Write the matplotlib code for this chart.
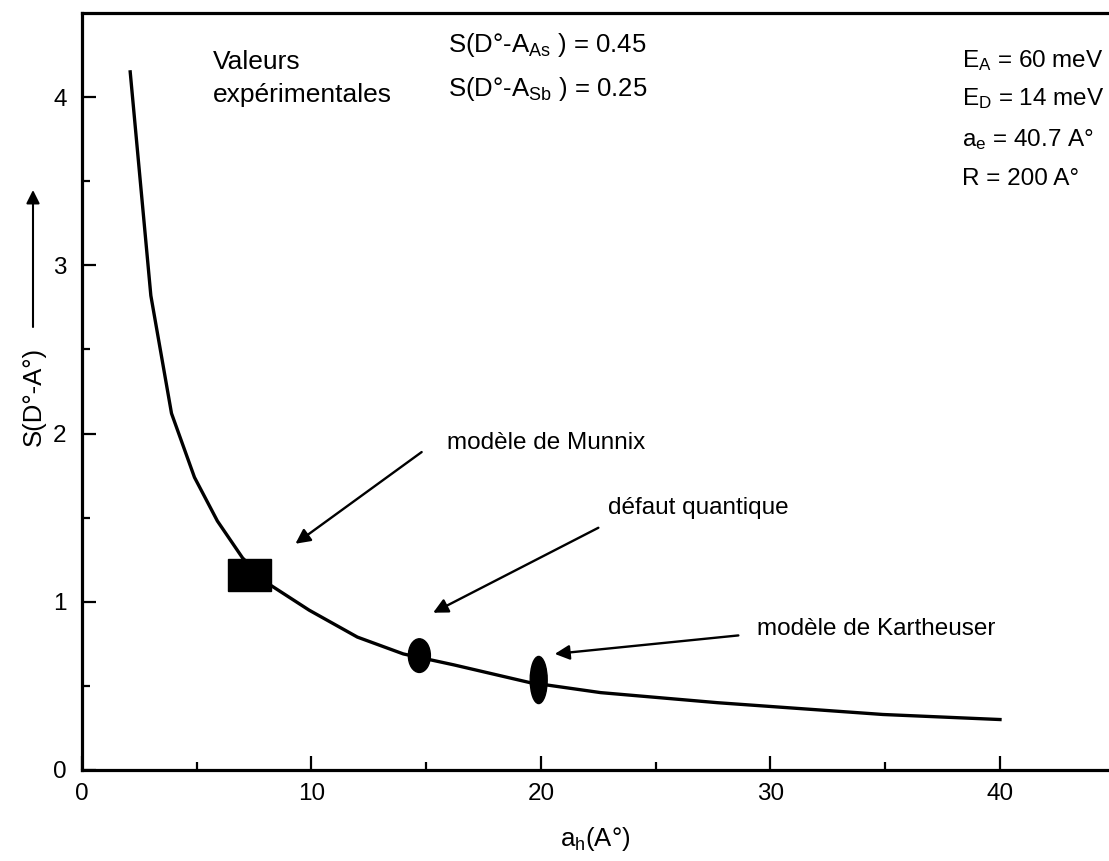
import matplotlib.pyplot as plt
from matplotlib.patches import Ellipse, Rectangle

#----------------------------------------------------------------------------
# S(D°-A°) en fonction de a_h : courbe calculee + valeurs des modeles
#----------------------------------------------------------------------------
plt.rcParams['font.family'] = ['Liberation Sans', 'DejaVu Sans']
plt.rcParams['mathtext.fontset'] = 'custom'
plt.rcParams['mathtext.rm'] = 'Liberation Sans'
plt.rcParams['mathtext.it'] = 'Liberation Sans:italic'

# courbe calculee
ah = [2.1, 3.0, 3.9, 4.9, 5.9, 7.0, 8.2, 9.9, 12.0, 14.0, 16.2, 19.5, 22.6, 27.7, 34.9, 40.0]
S = [4.15, 2.82, 2.12, 1.74, 1.48, 1.26, 1.10, 0.95, 0.79, 0.69, 0.625, 0.52, 0.46, 0.40, 0.33, 0.30]

# points des modeles (Munnix, defaut quantique, Kartheuser)
model_names = ['modèle de Munnix', 'défaut quantique', 'modèle de Kartheuser']
model_x = [7.3, 14.7, 19.9]
model_y = [1.16, 0.68, 0.535]
# position des textes et des fleches
label_x = [15.9, 22.9, 29.4]
label_y = [1.91, 1.52, 0.80]
tail_x = [14.8, 22.5, 28.6]
tail_y = [1.89, 1.44, 0.80]
head_x = [9.3, 15.3, 20.6]
head_y = [1.345, 0.935, 0.69]

fig = plt.figure(figsize=(11.09, 8.61), dpi=100)
ax = fig.add_axes([82/1109, 1 - 770/861, 1 - 82/1109, 757/861])

ax.plot(ah, S, color='black', lw=2.4, solid_joinstyle='round')

# marqueurs : rectangle pour Munnix, ellipses pour les deux autres
ax.add_patch(Rectangle((model_x[0] - 0.92, model_y[0] - 0.095), 1.84, 0.19,
                       color='black', zorder=3))
ax.add_patch(Ellipse((model_x[1], model_y[1]), 0.96, 0.20, color='black', zorder=3))
ax.add_patch(Ellipse((model_x[2], model_y[2]), 0.74, 0.28, color='black', zorder=3))

for i in range(3):
    ax.text(label_x[i], label_y[i], model_names[i], fontsize=17.5, va='baseline')
    ax.annotate('', xy=(head_x[i], head_y[i]), xytext=(tail_x[i], tail_y[i]),
                arrowprops=dict(arrowstyle='-|>', color='black', lw=1.7,
                                mutation_scale=22, shrinkA=0, shrinkB=0))

ax.text(5.7, 4.17, 'Valeurs', fontsize=19, va='baseline')
ax.text(5.7, 3.97, 'expérimentales', fontsize=19, va='baseline')
ax.text(15.95, 4.268, r'S(D°-A$_{\mathrm{As}}$ ) = 0.45', fontsize=18.5, va='baseline')
ax.text(15.95, 4.006, r'S(D°-A$_{\mathrm{Sb}}$ ) = 0.25', fontsize=18.5, va='baseline')
ax.text(38.35, 4.18, r'E$_{\mathrm{A}}$ = 60 meV', fontsize=17.5, va='baseline')
ax.text(38.35, 3.95, r'E$_{\mathrm{D}}$ = 14 meV', fontsize=17.5, va='baseline')
ax.text(38.35, 3.71, r'a$_{\mathrm{e}}$ = 40.7 A°', fontsize=17.5, va='baseline')
ax.text(38.35, 3.48, 'R = 200 A°', fontsize=17.5, va='baseline')

ax.set_xlim(0, 44.75)
ax.set_ylim(0, 4.5)
ax.set_xticks([0, 10, 20, 30, 40])
ax.set_xticks([5, 15, 25, 35], minor=True)
ax.set_yticks([0, 1, 2, 3, 4])
ax.set_yticks([0.5, 1.5, 2.5, 3.5], minor=True)
ax.tick_params(which='both', direction='in', width=1.6, labelsize=17.5, top=False, right=False)
ax.tick_params(which='major', length=10, pad=9)
ax.tick_params(which='minor', length=5.5)
ax.tick_params(axis='y', pad=11)
for side in ['left', 'bottom', 'top']:
    ax.spines[side].set_linewidth(2.3)
ax.spines['right'].set_visible(False)

ax.set_xlabel(r'a$_{\mathrm{h}}$(A°)', fontsize=18.5)
ax.xaxis.set_label_coords(0.5, -0.072)
ax.set_ylabel('S(D°-A°)', fontsize=18.5)
ax.yaxis.set_label_coords(-0.035, 0.493)
# fleche verticale a cote du label y
ax.annotate('', xy=(33/1109, 1 - 190/861), xytext=(33/1109, 1 - 327/861),
            xycoords='figure fraction', textcoords='figure fraction',
            arrowprops=dict(arrowstyle='-|>', color='black', lw=1.5,
                            mutation_scale=20, shrinkA=0, shrinkB=0))

plt.savefig('out.png', dpi=100)
